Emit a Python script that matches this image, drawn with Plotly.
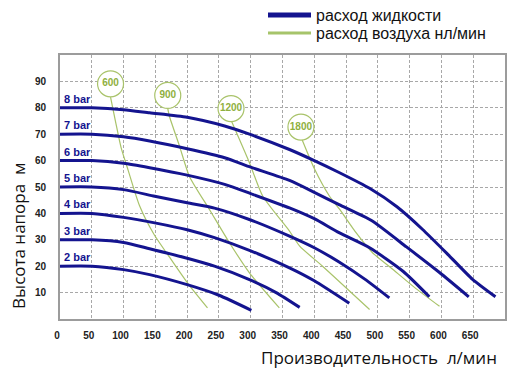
import plotly.graph_objects as go

# ---- data ----
bar_labels = ["2 bar", "3 bar", "4 bar", "5 bar", "6 bar", "7 bar", "8 bar"]
q_2 = [0, 50, 100, 141, 200, 250, 301]
h_2 = [20, 20, 18.7, 16.8, 13, 9, 3.3]
q_3 = [0, 50, 100, 141, 200, 243, 298, 340, 377]
h_3 = [30, 30, 29, 26.6, 23, 20, 14.9, 10, 4.4]
q_4 = [0, 50, 100, 149, 200, 243, 300, 361, 400, 455]
h_4 = [40, 40, 38.5, 36.4, 33.8, 30.8, 25.8, 19.4, 14.5, 6]
q_5 = [0, 50, 100, 149, 200, 243, 300, 361, 400, 439, 480, 518]
h_5 = [50, 50, 49, 46.5, 44, 42, 37.5, 31.4, 27, 21.6, 15, 8]
q_6 = [0, 50, 100, 141, 200, 259, 300, 361, 400, 439, 487, 540, 581]
h_6 = [60, 60, 59, 57.3, 54.5, 51, 47.5, 42.1, 38, 32.7, 27, 18, 8.4]
q_7 = [0, 50, 100, 141, 200, 259, 300, 361, 400, 439, 490, 545, 597, 643]
h_7 = [70, 70, 69, 67.4, 64.5, 61.1, 57.5, 52.5, 48, 43.3, 37.3, 27.3, 17.6, 8.4]
q_8 = [0, 50, 100, 141, 200, 259, 298, 361, 400, 439, 487, 530, 570, 610, 649, 685]
h_8 = [80, 80, 79.3, 78.1, 76.4, 73.1, 70, 64.2, 60, 55.5, 49.5, 42.5, 34, 24.5, 15, 8.4]

air_labels = ["600", "900", "1200", "1800"]
air_cx = [79.5, 169.5, 269, 379]
air_cy = [89.1, 84.7, 79.7, 72.7]
aq_600 = [79.5, 88, 96, 107, 125, 148, 172, 201, 232]
ah_600 = [84, 74, 65, 56.5, 43, 32, 23.5, 13.5, 4.2]
aq_900 = [169.5, 172, 188, 203.6, 235, 266.5, 298, 345]
ah_900 = [79.8, 76.9, 65.5, 54, 41.5, 28.9, 17.5, 4.2]
aq_1200 = [270, 298, 319, 361, 377, 413, 487]
ah_1200 = [74.8, 59.2, 46.5, 33.3, 27.6, 20, 3.6]
aq_1800 = [381, 400, 424, 440, 466, 492, 520, 560, 597]
ah_1800 = [67.8, 57, 46.5, 41.5, 32.6, 25, 19.5, 11.5, 4.8]

x_ticks = [0, 50, 100, 150, 200, 250, 300, 350, 400, 450, 500, 550, 600, 650]
y_ticks = [10, 20, 30, 40, 50, 60, 70, 80, 90]

legend_names = ["расход жидкости", "расход воздуха нл/мин"]
x_title = "Производительность  л/мин"
y_title = "Высота напора  м"

BLUE = "#14148f"
GREEN_LINE = "#a9c36a"
GREEN_TEXT = "#8fb040"

fig = go.Figure()

air_q = [aq_600, aq_900, aq_1200, aq_1800]
air_h = [ah_600, ah_900, ah_1200, ah_1800]
for q, h in zip(air_q, air_h):
    fig.add_trace(go.Scatter(
        x=q, y=h, mode="lines", line=dict(color=GREEN_LINE, width=1.2, shape="spline", smoothing=0.6),
        showlegend=False, hoverinfo="skip"))

pump_q = [q_2, q_3, q_4, q_5, q_6, q_7, q_8]
pump_h = [h_2, h_3, h_4, h_5, h_6, h_7, h_8]
for q, h in zip(pump_q, pump_h):
    fig.add_trace(go.Scatter(
        x=q, y=h, mode="lines", line=dict(color=BLUE, width=3, shape="spline", smoothing=0.6),
        showlegend=False, hoverinfo="skip"))

# legend-only entries (two single-item legends for exact placement)
fig.add_trace(go.Scatter(x=[None], y=[None], mode="lines", line=dict(color=BLUE, width=5),
                         name=legend_names[0], legend="legend"))
fig.add_trace(go.Scatter(x=[None], y=[None], mode="lines", line=dict(color="#a6c46a", width=3),
                         name=legend_names[1], legend="legend2"))

fig.add_trace(go.Scatter(
    x=air_cx, y=air_cy, mode="markers+text", text=air_labels, textposition="middle center",
    textfont=dict(family="Liberation Sans", size=10, color=GREEN_TEXT, weight="bold"),
    marker=dict(size=26, color="white", line=dict(color=GREEN_LINE, width=1.2)),
    showlegend=False, hoverinfo="skip"))

for lab, h in zip(bar_labels, pump_h):
    fig.add_annotation(x=3, y=h[0], text=lab, showarrow=False, xanchor="left", yanchor="bottom",
                       yshift=1, font=dict(family="Liberation Sans", size=11, color=BLUE, weight="bold"))

fig.add_annotation(xref="paper", yref="paper", x=1, y=-0.145, xanchor="right", yanchor="middle",
                   xshift=-6, text=x_title, showarrow=False,
                   font=dict(family="Open Sans", size=17, color="#111"))
fig.add_annotation(xref="paper", yref="paper", x=-0.092, y=0.315, xanchor="center", yanchor="middle",
                   textangle=-90, text=y_title, showarrow=False,
                   font=dict(family="Open Sans", size=17, color="#111"))

fig.update_xaxes(range=[0, 700], tickvals=x_ticks, ticktext=[str(v) for v in x_ticks],
                 showgrid=True, gridcolor="#a8a8a8", griddash="3px,2px", gridwidth=1,
                 showline=True, linecolor="#9c9c9c", linewidth=2, mirror=True,
                 zeroline=False, ticks="", ticklabelstandoff=6, ticklabelshift=-3,
                 tickfont=dict(family="Liberation Sans", size=10, color="#222", weight="bold"))
fig.update_yaxes(range=[0, 100], tickvals=y_ticks, ticktext=[str(v) for v in y_ticks],
                 showgrid=True, gridcolor="#a8a8a8", griddash="3px,2px", gridwidth=1,
                 showline=True, linecolor="#9c9c9c", linewidth=2, mirror=True,
                 zeroline=False, ticks="", ticklabelstandoff=10,
                 tickfont=dict(family="Liberation Sans", size=10, color="#222", weight="bold"))

leg_common = dict(xref="container", yref="container", xanchor="left", yanchor="middle",
                  bgcolor="rgba(0,0,0,0)", font=dict(family="Liberation Sans", size=16, color="#111"),
                  itemwidth=43)
fig.update_layout(
    width=532, height=384, autosize=False,
    margin=dict(l=60, r=27, t=55, b=65, autoexpand=False),
    paper_bgcolor="white", plot_bgcolor="white",
    showlegend=True,
    legend=dict(x=263 / 532, y=1 - 15 / 384, **leg_common),
    legend2=dict(x=263 / 532, y=1 - 33 / 384, **leg_common),
)

fig.write_html("out.html", config={"displayModeBar": False},
               post_script="document.body.style.margin='0px';")
